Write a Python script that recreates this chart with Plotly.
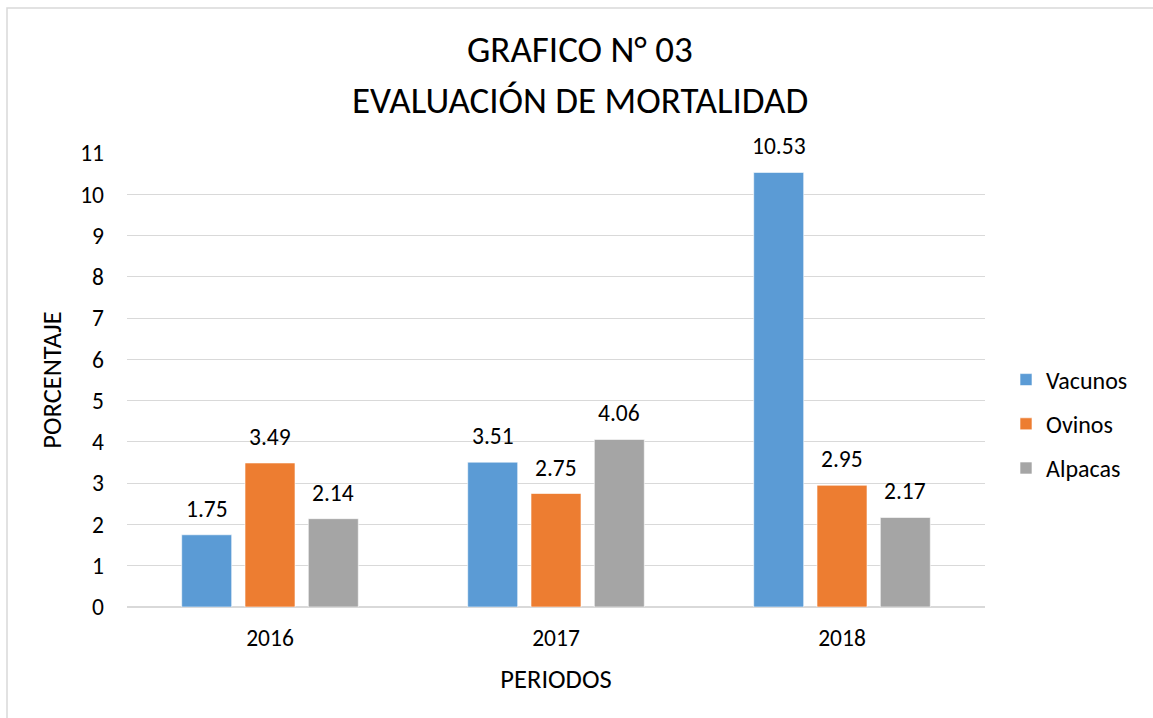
import plotly.graph_objects as go

periodos = ["2016", "2017", "2018"]
vacunos = [1.75, 3.51, 10.53]
ovinos = [3.49, 2.75, 2.95]
alpacas = [2.14, 4.06, 2.17]
series_names = ["Vacunos", "Ovinos", "Alpacas"]
series_values = [vacunos, ovinos, alpacas]
colors = ["#5B9BD5", "#ED7D31", "#A5A5A5"]
y_ticks = list(range(0, 12))

FONT = "Carlito, Calibri, Lato, sans-serif"
FS = 23.5
FT = 26.5

fig = go.Figure()
for i, (name, vals, col) in enumerate(zip(series_names, series_values, colors)):
    fig.add_trace(go.Bar(
        x=periodos, y=vals, name=name, legendgroup=name,
        marker=dict(color=col, line=dict(color="rgba(255,255,255,0.6)", width=1)),
    ))

# Data labels (category index positions on the category axis)
shifts = [-63.3, 0, 63.3]
annotations = []
for vals, xs in zip(series_values, shifts):
    for ci, v in enumerate(vals):
        annotations.append(dict(
            x=ci, y=v, xref="x", yref="y", text=f"{v:.2f}", showarrow=False,
            xshift=xs, yshift=26, yanchor="middle",
            font=dict(family=FONT, size=FS, color="#000000"),
        ))

# Title lines
annotations.append(dict(x=0.528, y=1.2269, xref="paper", yref="paper",
                        text="GRAFICO N° 03", showarrow=False, yanchor="middle",
                        font=dict(family=FONT, size=37, color="#000000")))
annotations.append(dict(x=0.528, y=1.1167, xref="paper", yref="paper",
                        text="EVALUACIÓN DE MORTALIDAD", showarrow=False, yanchor="middle",
                        font=dict(family=FONT, size=37, color="#000000")))

L, R, T, B = 127, 168, 153, 111
W, H = 1153, 718
pw, ph = W - L - R, H - T - B

fig.update_layout(
    width=W, height=H,
    margin=dict(l=L, r=R, t=T, b=B),
    paper_bgcolor="white", plot_bgcolor="white",
    barmode="group", bargap=0.336, bargroupgap=0.21,
    font=dict(family=FONT, size=FS, color="#000000"),
    annotations=annotations,
    showlegend=True,
    legend=dict(x=(1006 - L) / pw, y=(607 - 424) / ph, xanchor="left", yanchor="middle",
                traceorder="grouped", tracegroupgap=10,
                font=dict(family=FONT, size=24, color="#000000"),
                bgcolor="rgba(0,0,0,0)"),
    shapes=[dict(type="rect", xref="paper", yref="paper",
                 x0=(7 - L) / pw, x1=(1170 - L) / pw,
                 y0=(607 - 740) / ph, y1=(607 - 8) / ph,
                 line=dict(color="#D9D9D9", width=1.5), fillcolor="rgba(0,0,0,0)", layer="below")],
)
fig.update_xaxes(type="category", categoryorder="array", categoryarray=periodos,
                 range=[-0.5, len(periodos) - 0.5],
                 showgrid=False, showline=False, ticks="",
                 title=dict(text="PERIODOS", font=dict(family=FT and FONT, size=FT), standoff=18),
                 tickfont=dict(family=FONT, size=FS), ticklabelstandoff=14)
fig.update_yaxes(range=[0, 11], tickvals=y_ticks, showgrid=True, gridcolor="#D9D9D9", gridwidth=1,
                 zeroline=True, zerolinecolor="#D9D9D9", zerolinewidth=1.5, showline=False, ticks="",
                 title=dict(text="PORCENTAJE", font=dict(family=FONT, size=FT), standoff=10),
                 tickfont=dict(family=FONT, size=FS), ticklabelstandoff=22)

fig.write_html("out.html", config={"displayModeBar": False})
with open("out.html", "r", encoding="utf-8") as f:
    html = f.read()
html = html.replace("<head>", "<head><style>html,body{margin:0;padding:0;overflow:hidden;}</style>", 1)
with open("out.html", "w", encoding="utf-8") as f:
    f.write(html)
